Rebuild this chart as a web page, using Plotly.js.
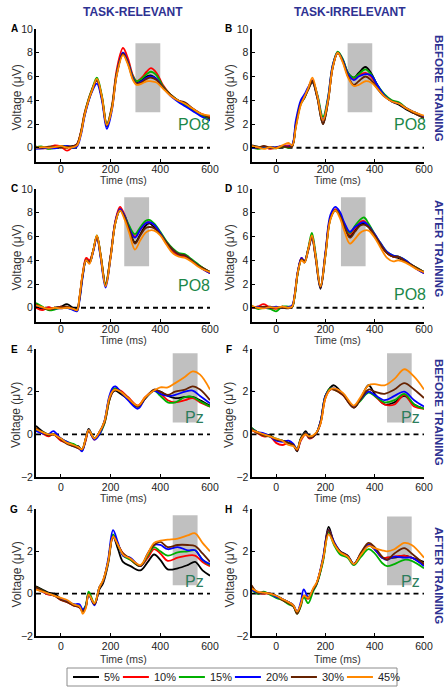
<!DOCTYPE html>
<html><head><meta charset="utf-8">
<script src="https://cdn.plot.ly/plotly-3.0.1.min.js"></script>
<style>html,body{margin:0;padding:0;background:#fff}#chart{width:447px;height:687px}</style>
</head><body><div id="chart"></div>
<script>
// ---------- DATA ----------
const conditions = ['5%', '10%', '15%', '20%', '30%', '45%'];
const colors = ['#000000', '#ff0000', '#00b000', '#0000ff', '#662200', '#ff8800'];
const panelLetters = ['A', 'B', 'C', 'D', 'E', 'F', 'G', 'H'];
const electrodes = ['PO8', 'PO8', 'PO8', 'PO8', 'Pz', 'Pz', 'Pz', 'Pz'];
const columnTitles = ['TASK-RELEVANT', 'TASK-IRRELEVANT'];
const rowTitles = ['BEFORE TRAINING', 'AFTER TRAINING', 'BEFORE TRAINING', 'AFTER TRAINING'];
const xTicks = [0, 200, 400, 600];
const yTicksPO8 = [0, 2, 4, 6, 8, 10];
const yTicksPz = [-2, 0, 2, 4];
// analysis windows [t0, t1, v0, v1]
const windows = [[300, 400, 3.0, 8.8], [290, 390, 3.0, 8.8], [255, 355, 3.5, 9.3], [263, 363, 3.5, 9.3],
                 [450, 550, 0.55, 3.8], [450, 550, 0.55, 3.8], [450, 550, 0.4, 3.7], [450, 550, 0.4, 3.65]];

// Panel A (PO8, task-relevant, before)
const tA = [-100,-75,-50,-25,0,25,50,65,80,95,110,125,145,165,185,205,225,250,270,290,305,325,345,362,385,410,440,470,500,530,560,600];
const voltA = [
 [0.1,0.0,-0.05,0.1,0.15,0.1,0.15,0.3,1.2,2.7,3.9,4.8,5.7,4.2,1.8,3.3,6.3,8.0,7.2,5.9,5.5,5.7,6.0,6.1,5.8,5.1,4.5,4.0,3.6,3.2,2.8,2.4],
 [0.0,-0.05,0.0,0.2,0.1,-0.25,0.1,0.3,1.3,2.9,4.0,4.9,5.7,4.3,2.0,3.5,6.6,8.4,7.5,6.1,5.6,5.9,6.4,6.7,6.3,5.3,4.5,4.0,3.7,3.3,2.9,2.6],
 [0.05,0.1,-0.1,0.0,0.1,0.1,0.0,0.2,1.2,2.8,4.0,4.9,5.9,4.4,2.0,3.4,6.3,7.9,7.2,6.0,5.6,5.8,6.2,6.4,6.1,5.2,4.5,4.0,3.6,3.2,2.8,2.5],
 [-0.1,-0.05,0.0,-0.05,0.05,0.15,0.0,0.1,1.0,2.6,3.8,4.7,5.4,4.0,1.6,3.1,6.2,8.0,7.2,5.9,5.4,5.6,5.9,6.0,5.8,5.1,4.4,3.9,3.5,3.1,2.7,2.3],
 [0.05,0.0,0.1,0.1,0.0,0.1,0.1,0.3,1.2,2.8,3.9,4.8,5.7,4.2,1.9,3.3,6.2,7.9,7.1,5.8,5.4,5.5,5.8,5.9,5.7,5.1,4.5,4.0,3.8,3.3,2.9,2.5],
 [0.0,0.05,0.0,0.05,0.15,0.0,0.05,0.2,1.1,2.7,3.9,4.8,5.8,4.3,1.9,3.2,6.1,7.8,7.0,5.7,5.3,5.4,5.6,5.6,5.5,5.0,4.4,4.0,3.7,3.3,2.9,2.7]
];
// Panel B (PO8, task-irrelevant, before)
const tB = [-100,-75,-50,-25,0,25,50,65,80,100,115,130,147,167,190,210,230,250,270,292,315,335,362,385,410,440,470,500,530,560,600];
const voltB = [
 [0.2,0.1,0.0,0.05,0.0,0.05,0.1,0.2,1.9,3.8,4.3,4.9,5.5,4.2,2.0,3.8,6.8,8.0,7.4,6.3,5.9,6.3,6.8,6.3,5.3,4.4,3.9,3.6,3.2,2.9,2.5],
 [0.1,-0.05,0.1,-0.1,0.0,0.15,0.2,0.2,2.0,3.8,4.3,5.0,5.7,4.4,2.3,4.0,6.9,8.0,7.4,6.2,5.8,6.1,6.3,6.0,5.2,4.4,3.9,3.7,3.3,3.0,2.6],
 [0.05,-0.1,0.0,0.0,-0.05,0.1,0.0,0.15,1.9,3.7,4.2,5.0,5.6,4.5,2.6,4.2,7.0,8.1,7.5,6.3,5.9,6.2,6.6,6.2,5.3,4.5,4.0,3.8,3.3,3.0,2.6],
 [0.0,0.0,0.1,0.0,0.05,0.15,0.1,0.25,2.3,4.0,4.5,5.1,5.6,4.4,2.3,4.1,7.0,8.0,7.4,6.2,5.7,6.0,6.2,6.1,5.3,4.4,3.9,3.7,3.3,3.0,2.6],
 [0.1,0.0,0.15,0.0,0.0,0.1,0.05,0.1,1.8,3.7,4.2,4.9,5.6,4.2,2.0,3.8,6.8,8.0,7.3,6.0,5.3,5.6,6.0,5.7,5.0,4.3,3.9,3.7,3.3,2.9,2.5],
 [0.15,0.05,-0.1,0.05,-0.05,0.2,0.4,0.2,1.7,3.6,4.3,5.0,5.9,4.4,2.3,3.9,6.8,8.0,7.2,5.9,5.2,5.3,5.6,5.5,5.0,4.3,3.9,3.7,3.3,3.0,2.7]
];
// Panel C (PO8, task-relevant, after)
const tC = [-100,-75,-50,-25,0,25,50,65,75,88,102,115,130,145,160,180,200,220,238,255,275,298,320,340,355,375,400,425,450,475,500,525,550,575,600];
const voltC = [
 [0.1,-0.1,-0.1,0.0,0.1,0.3,-0.05,-0.15,0.9,2.8,4.1,3.9,4.8,6.0,4.3,1.9,4.3,7.3,8.3,7.8,6.6,5.5,6.2,6.9,7.1,6.8,6.2,5.4,4.8,4.4,4.3,4.0,3.6,3.3,3.0],
 [0.0,-0.2,0.05,-0.1,0.1,0.0,-0.1,-0.25,0.8,2.9,4.2,4.0,4.8,6.0,4.5,2.0,4.4,7.4,8.5,7.9,6.8,6.0,6.6,7.1,7.2,7.0,6.3,5.5,4.8,4.4,4.3,4.0,3.6,3.2,2.9],
 [0.4,0.1,-0.2,-0.15,0.0,0.0,-0.15,-0.2,0.7,2.7,4.0,3.8,4.8,6.1,4.5,2.0,4.3,7.2,8.2,7.8,6.9,6.2,6.8,7.3,7.4,7.1,6.4,5.6,5.0,4.6,4.5,4.1,3.7,3.3,3.0],
 [0.2,0.0,-0.1,-0.05,-0.05,0.0,-0.2,-0.3,0.6,2.6,4.0,3.8,4.7,6.0,4.2,1.7,4.2,7.3,8.3,7.8,6.7,5.9,6.6,7.1,7.2,7.0,6.3,5.5,4.9,4.5,4.4,4.0,3.6,3.2,2.9],
 [0.3,0.0,-0.15,-0.05,0.05,0.1,-0.1,-0.2,0.8,2.8,4.0,3.8,4.8,6.0,4.4,1.9,4.3,7.2,8.2,7.7,6.6,5.4,6.1,6.7,6.8,6.7,6.2,5.5,4.9,4.5,4.4,4.0,3.6,3.3,3.0],
 [0.2,0.05,-0.1,0.0,-0.05,0.0,-0.1,-0.2,0.9,2.9,4.0,3.7,4.8,6.1,4.4,1.8,4.2,7.2,8.2,7.5,6.3,4.9,5.7,6.3,6.5,6.5,6.1,5.3,4.6,4.3,4.2,3.9,3.5,3.2,3.0]
];
// Panel D (PO8, task-irrelevant, after)
const tD = [-100,-75,-50,-25,0,25,50,65,75,88,103,115,130,145,160,180,200,220,240,258,278,299,320,340,357,375,400,425,450,475,495,525,550,575,600];
const voltD = [
 [0.1,0.0,0.05,0.1,0.0,0.1,0.0,0.05,1.0,3.0,4.1,3.8,4.8,5.9,4.2,1.6,4.4,7.5,8.2,7.8,6.8,6.0,6.5,7.0,7.1,6.8,6.0,5.2,4.6,4.3,4.2,3.9,3.6,3.3,3.0],
 [0.0,0.1,0.3,0.0,-0.1,0.1,0.0,0.1,1.0,3.0,4.2,3.9,4.9,6.0,4.4,1.8,4.6,7.6,8.3,7.9,6.9,6.2,6.7,7.2,7.3,6.9,6.1,5.3,4.6,4.3,4.3,3.9,3.6,3.2,2.9],
 [0.2,-0.1,0.0,-0.1,-0.3,0.1,0.1,0.1,0.9,2.9,4.1,3.9,5.0,6.3,4.6,1.8,4.5,7.5,8.2,7.9,7.0,6.3,6.9,7.4,7.6,7.1,6.2,5.4,4.7,4.4,4.3,4.0,3.6,3.3,3.0],
 [0.0,0.1,0.0,0.0,0.1,0.0,0.05,0.2,1.1,3.1,4.2,3.9,4.9,6.0,4.4,1.7,4.7,7.8,8.5,8.1,7.1,6.4,6.8,7.1,7.2,6.9,6.2,5.4,4.7,4.4,4.3,4.0,3.6,3.2,2.9],
 [0.1,0.0,0.1,0.0,0.0,0.0,-0.05,0.1,1.0,3.0,4.1,3.9,4.9,6.0,4.3,1.7,4.5,7.5,8.2,7.8,6.8,5.9,6.4,6.9,7.0,6.8,6.1,5.3,4.6,4.3,4.3,3.9,3.6,3.3,3.0],
 [0.15,0.0,-0.05,0.05,0.0,0.1,0.0,0.1,1.0,3.0,4.0,3.8,4.9,6.1,4.4,1.8,4.4,7.4,8.2,7.6,6.4,5.4,5.8,6.3,6.5,6.5,5.9,5.0,4.2,3.9,4.0,3.8,3.5,3.2,3.0]
];
// Panel E (Pz, task-relevant, before)
const tE = [-100,-75,-50,-30,0,25,50,70,85,100,112,135,155,175,195,210,220,240,270,310,340,375,400,430,460,500,530,560,600];
const voltE = [
 [0.4,0.15,0.0,0.0,-0.2,-0.4,-0.55,-0.55,-0.75,-0.25,0.25,-0.2,0.1,0.6,1.7,2.0,2.05,1.9,1.65,1.3,1.7,2.05,2.0,1.8,1.7,1.75,1.75,1.6,1.35],
 [0.2,0.05,-0.1,0.0,-0.3,-0.4,-0.5,-0.65,-0.75,-0.3,0.2,-0.25,0.1,0.5,1.6,2.05,2.15,2.05,1.75,1.35,1.75,2.05,1.9,1.6,1.5,1.6,1.7,1.5,1.3],
 [0.2,0.1,0.0,0.0,-0.2,-0.35,-0.45,-0.6,-0.75,-0.2,0.2,-0.2,0.0,0.5,1.6,2.1,2.15,2.0,1.7,1.3,1.7,2.05,1.8,1.5,1.5,1.75,1.75,1.55,1.3],
 [0.15,0.05,0.0,0.15,-0.2,-0.35,-0.55,-0.6,-0.8,-0.2,0.2,-0.25,0.0,0.6,1.8,2.2,2.25,2.0,1.6,1.2,1.7,2.05,1.9,1.8,1.85,2.0,2.05,1.8,1.45],
 [0.3,0.1,-0.05,0.0,-0.25,-0.45,-0.55,-0.65,-0.7,-0.2,0.15,-0.2,0.1,0.55,1.6,2.0,2.1,2.0,1.7,1.3,1.7,2.1,2.0,1.85,2.0,2.1,2.25,2.1,1.6],
 [0.25,0.1,0.0,0.0,-0.2,-0.4,-0.5,-0.6,-0.7,-0.2,0.2,-0.2,0.1,0.6,1.7,2.05,2.1,2.0,1.7,1.35,1.75,2.05,2.2,2.2,2.4,2.7,2.95,2.8,2.1]
];
// Panel F (Pz, task-irrelevant, before)
const tF = [-100,-75,-50,-25,0,25,50,70,85,100,120,135,160,180,200,220,235,270,315,340,375,400,440,480,520,560,600];
const voltF = [
 [0.3,0.1,0.0,-0.05,-0.25,-0.3,-0.4,-0.5,-0.8,-0.2,0.15,-0.1,0.0,0.6,1.8,2.2,2.3,1.9,1.25,1.6,2.3,1.9,1.4,1.5,1.8,1.4,1.2],
 [0.2,0.05,-0.1,-0.1,-0.4,-0.5,-0.4,-0.5,-0.75,-0.3,0.0,-0.2,0.0,0.5,1.7,2.1,2.1,1.85,1.3,1.6,2.0,1.8,1.4,1.4,1.85,1.3,1.2],
 [0.3,0.1,-0.05,-0.1,-0.2,-0.3,-0.4,-0.5,-0.7,-0.2,0.05,-0.15,0.0,0.55,1.8,2.15,2.1,1.9,1.3,1.55,1.95,1.8,1.5,1.6,1.9,1.4,1.2],
 [0.25,0.1,0.05,-0.1,-0.3,-0.35,-0.3,-0.45,-0.7,-0.25,0.05,-0.15,0.0,0.6,1.8,2.1,2.15,1.9,1.3,1.6,2.0,1.85,1.6,1.8,2.0,1.6,1.3],
 [0.25,0.05,-0.05,-0.1,-0.25,-0.3,-0.4,-0.5,-0.75,-0.2,0.05,-0.15,0.0,0.55,1.75,2.1,2.1,1.85,1.25,1.6,2.1,2.0,1.9,2.1,2.4,2.1,1.7],
 [0.2,0.1,0.0,-0.1,-0.2,-0.3,-0.5,-0.55,-0.7,-0.25,0.0,-0.1,0.05,0.5,1.7,2.1,2.15,1.95,1.35,1.7,2.3,2.35,2.3,2.6,3.05,2.7,2.1]
];
// Panel G (Pz, task-relevant, after)
const tG = [-100,-75,-50,-25,0,25,50,75,88,100,112,135,155,170,190,210,230,250,280,320,350,375,400,430,470,510,540,570,600];
const voltG = [
 [0.35,0.2,0.05,0.0,-0.25,-0.35,-0.5,-0.6,-0.8,-0.6,0.0,-0.5,0.2,0.5,1.4,2.7,2.1,1.5,1.3,1.1,1.5,1.85,1.6,1.15,1.2,1.35,1.5,1.1,0.85],
 [0.3,0.1,-0.05,-0.1,-0.3,-0.4,-0.55,-0.65,-0.8,-0.6,0.0,-0.5,0.3,0.6,1.5,2.7,2.3,1.9,1.6,1.3,1.7,2.1,1.9,1.55,1.7,1.8,1.8,1.5,1.3],
 [0.3,0.15,0.0,-0.1,-0.25,-0.35,-0.5,-0.6,-0.75,-0.55,0.1,-0.45,0.3,0.6,1.5,2.8,2.3,1.8,1.6,1.3,1.8,2.2,2.0,1.8,1.95,2.0,2.05,1.6,1.35],
 [0.25,0.1,0.0,-0.1,-0.25,-0.35,-0.5,-0.5,-0.75,-0.6,-0.05,-0.55,0.3,0.6,1.6,3.0,2.4,1.8,1.7,1.3,1.9,2.3,2.3,2.1,2.2,2.05,2.05,1.6,1.4],
 [0.3,0.15,0.0,-0.1,-0.3,-0.4,-0.55,-0.65,-0.85,-0.65,-0.05,-0.5,0.25,0.6,1.5,2.7,2.3,1.9,1.65,1.3,1.9,2.3,2.45,2.2,2.3,2.3,2.25,1.9,1.5],
 [0.2,0.1,0.0,-0.1,-0.2,-0.3,-0.5,-0.6,-0.95,-0.7,-0.05,-0.45,0.3,0.65,1.5,2.7,2.3,1.85,1.65,1.35,1.9,2.4,2.5,2.55,2.6,2.75,2.85,2.4,2.0]
];
// Panel H (Pz, task-irrelevant, after)
const tH = [-100,-75,-50,-25,0,25,50,70,85,100,112,130,150,165,190,213,235,260,290,315,345,375,400,430,450,480,520,550,600];
const voltH = [
 [0.3,0.0,0.05,0.0,-0.1,-0.25,-0.4,-0.55,-0.9,-0.5,-0.1,-0.2,0.2,0.5,1.6,3.15,2.4,2.0,1.8,1.4,1.9,2.3,2.1,1.7,1.7,1.7,1.8,1.7,1.5],
 [0.25,0.05,0.0,0.0,-0.15,-0.3,-0.45,-0.6,-0.85,-0.5,-0.1,-0.25,0.2,0.5,1.6,3.0,2.4,1.95,1.75,1.4,1.85,2.3,2.1,1.7,1.7,1.75,1.8,1.7,1.35],
 [0.2,0.0,0.1,-0.05,-0.2,-0.3,-0.5,-0.6,-0.95,-0.6,-0.15,-0.45,0.1,0.45,1.5,2.9,2.3,1.85,1.7,1.35,1.75,2.1,1.9,1.45,1.3,1.4,1.6,1.55,1.2],
 [0.2,0.05,0.05,0.0,-0.15,-0.25,-0.4,-0.55,-0.85,-0.4,0.2,-0.15,0.2,0.5,1.7,3.0,2.45,2.0,1.8,1.4,1.9,2.3,2.1,1.7,1.6,1.75,1.7,1.7,1.3],
 [0.4,0.05,0.05,0.0,-0.1,-0.3,-0.45,-0.6,-0.95,-0.55,-0.1,-0.2,0.2,0.5,1.6,3.0,2.4,2.0,1.8,1.4,1.95,2.4,2.2,1.75,1.6,1.9,2.15,1.9,1.4],
 [0.25,0.1,0.05,0.0,-0.1,-0.25,-0.4,-0.55,-0.85,-0.5,-0.1,-0.2,0.25,0.55,1.6,2.8,2.35,1.95,1.75,1.4,1.85,2.25,2.15,2.05,2.0,2.1,2.4,2.3,1.7]
];

// ---------- LAYOUT ----------
const W = 447, H = 687;
const FONT = 'Liberation Sans, Arial, Helvetica, sans-serif';
const times = [tA, tB, tC, tD, tE, tF, tG, tH];
const volts = [voltA, voltB, voltC, voltD, voltE, voltF, voltG, voltH];
const colPx = [[36, 210], [251.5, 424]];
const rowPx = [[29, 162], [189, 322], [349, 477], [509, 636]];
const tickStandoff = [-4, -4, -1, -1];
const px2x = p => p / W, py2y = p => 1 - p / H;

const data = [];
const layout = {
  width: W, height: H, margin: {l: 0, r: 0, t: 0, b: 0},
  paper_bgcolor: '#fff', plot_bgcolor: 'rgba(0,0,0,0)',
  font: {family: FONT, color: '#222'},
  showlegend: false,
  shapes: [], annotations: []
};
const ann = (text, xp, yp, opts) => Object.assign({text, x: px2x(xp), y: py2y(yp), xref: 'paper', yref: 'paper',
  showarrow: false, xanchor: 'center', yanchor: 'middle'}, opts || {});

for (let p = 0; p < 8; p++) {
  const row = Math.floor(p / 2), col = p % 2;
  const n = p + 1, xa = 'x' + (n === 1 ? '' : n), ya = 'y' + (n === 1 ? '' : n);
  const isPz = p >= 4;
  const axBase = {showline: true, linecolor: '#000', linewidth: 2, ticks: 'inside', ticklen: 3, tickwidth: 1,
    tickcolor: '#000', showgrid: false, zeroline: false, fixedrange: true,
    tickfont: {family: FONT, size: 10.5, color: '#222'}};
  layout['xaxis' + (n === 1 ? '' : n)] = Object.assign({}, axBase, {
    domain: [px2x(colPx[col][0]), px2x(colPx[col][1])], range: [-100, 600], tickvals: xTicks,
    ticklabelstandoff: tickStandoff[row], anchor: ya});
  layout['yaxis' + (n === 1 ? '' : n)] = Object.assign({}, axBase, {
    domain: [py2y(rowPx[row][1]), py2y(rowPx[row][0])], range: isPz ? [-2, 4] : [-1.2, 10],
    tickvals: isPz ? yTicksPz : yTicksPO8, ticklabelstandoff: -1, anchor: xa});
  const w = windows[p];
  layout.shapes.push({type: 'rect', xref: xa, yref: ya, x0: w[0], x1: w[1], y0: w[2], y1: w[3],
    fillcolor: '#c0c0c0', line: {width: 0}, layer: 'below'});
  layout.shapes.push({type: 'line', xref: xa, yref: ya, x0: -100, x1: 600, y0: 0, y1: 0,
    line: {color: '#000', width: 1.8, dash: '5px,4px'}, layer: 'below'});
  for (let s = 0; s < 6; s++) {
    data.push({type: 'scatter', mode: 'lines', x: times[p], y: volts[p][s], xaxis: xa, yaxis: ya,
      name: conditions[s], legendgroup: conditions[s],
      line: {color: colors[s], width: 1.8, shape: 'spline', smoothing: 1}, hoverinfo: 'skip'});
  }
  layout.annotations.push(ann('<b>' + panelLetters[p] + '</b>', col === 0 ? 14 : 229, rowPx[row][0],
    {font: {family: FONT, size: 10, color: '#000'}}));
  layout.annotations.push(ann('Voltage (μV)', col === 0 ? 16 : 229, (rowPx[row][0] + rowPx[row][1]) / 2 + 2,
    {textangle: -90, font: {family: FONT, size: 12, color: '#333'}}));
  const eY = [124, 124, 285, 294, 417, 417, 581, 581][p];
  layout.annotations.push(ann(electrodes[p], col === 0 ? 194 : 410, eY,
    {font: {family: FONT, size: 16, color: isPz ? '#2b7d5c' : '#1b8748'}}));
}
const timeY = [179.5, 340, 498, 659];
for (let r = 0; r < 4; r++) {
  for (let c = 0; c < 2; c++) {
    layout.annotations.push(ann('Time (ms)', (colPx[c][0] + colPx[c][1]) / 2, timeY[r],
      {font: {family: FONT, size: 10.5, color: '#333'}}));
  }
  layout.annotations.push(ann('<b>' + rowTitles[r] + '</b>', 439, [88, 248, 412, 575][r],
    {textangle: 90, font: {family: FONT, size: 11.5, color: '#2e3192'}}));
}
layout.annotations.push(ann('<b>' + columnTitles[0] + '</b>', 133, 12, {font: {family: FONT, size: 12, color: '#2e3192'}}));
layout.annotations.push(ann('<b>' + columnTitles[1] + '</b>', 350, 12, {font: {family: FONT, size: 12, color: '#2e3192'}}));

// ---------- LEGEND (boxed, single row) ----------
const legTop = 668, legBot = 686, legLeft = 67, legRight = 397, legMid = (legTop + legBot) / 2;
layout.shapes.push({type: 'rect', xref: 'paper', yref: 'paper', x0: px2x(legLeft), x1: px2x(legRight),
  y0: py2y(legBot), y1: py2y(legTop), line: {color: '#8c8c8c', width: 1}, fillcolor: '#fff'});
const charW = ch => (ch === '%' ? 0.889 : 0.556) * 11;
let lx = 73;
for (let s = 0; s < conditions.length; s++) {
  layout.shapes.push({type: 'line', xref: 'paper', yref: 'paper', x0: px2x(lx), x1: px2x(lx + 26),
    y0: py2y(legMid), y1: py2y(legMid), line: {color: colors[s], width: 2}});
  layout.annotations.push(ann(conditions[s], lx + 29, legMid, {xanchor: 'left',
    font: {family: FONT, size: 11, color: '#222'}}));
  const tw = conditions[s].split('').reduce((a, ch) => a + charW(ch), 0);
  lx += 26 + 3 + tw + 5;
}

Plotly.newPlot('chart', data, layout, {staticPlot: true, displayModeBar: false});
</script></body></html>
